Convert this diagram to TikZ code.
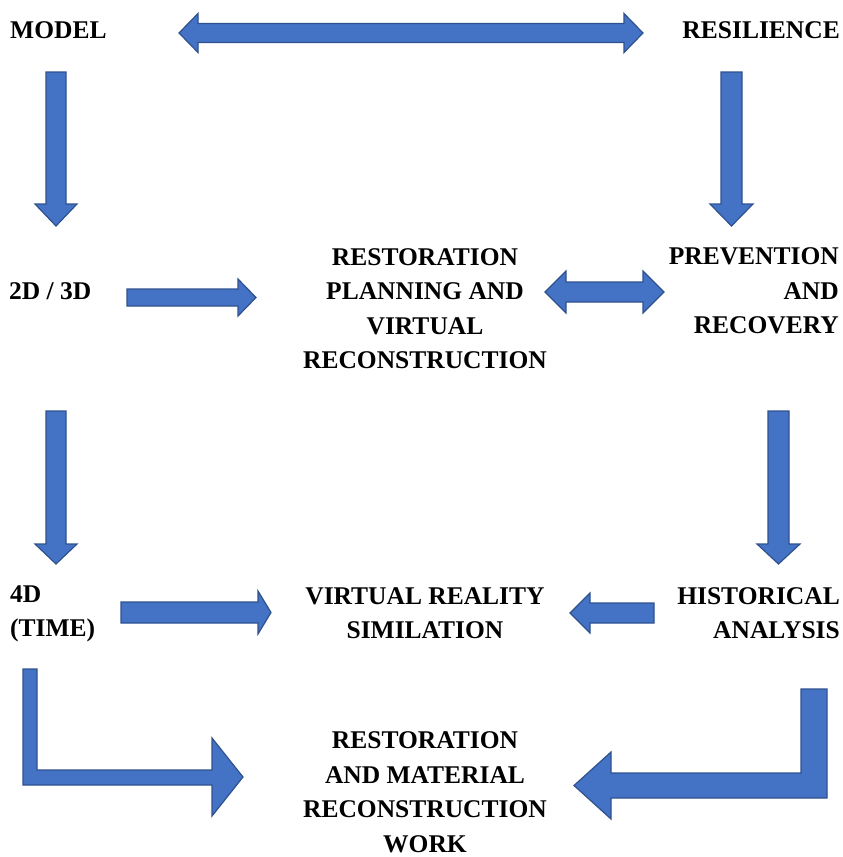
\documentclass[tikz,border=0pt]{standalone}
\usepackage{fontspec}
\setmainfont{Liberation Serif}
\usetikzlibrary{positioning}
\definecolor{arrowfill}{HTML}{4472C4}
\definecolor{arrowedge}{HTML}{2F528F}
\tikzset{
    term/.style = {inner sep=0pt, align=center, font=\fontsize{25.5}{34.5}\selectfont\bfseries},
    termr/.style = {term, align=right},
    terml/.style = {term, align=left},
    blockarrow/.style = {fill=arrowfill, draw=arrowedge, line width=1.2pt, line join=miter}
}
\begin{document}
\begin{tikzpicture}[x=1pt, y=-1pt]
    \useasboundingbox (0,0) rectangle (843,857);
        % text
        \node [terml, anchor=west] (model) at (10,30.5) {MODEL};
        \node [termr, anchor=east] (resilience) at (840,30.5) {RESILIENCE};
        \node [terml, anchor=west] (twothree) at (9,291.5) {2D / 3D};
        \node [term] (planning) at (425,308.5) {RESTORATION\\PLANNING AND\\VIRTUAL\\RECONSTRUCTION};
        \node [termr, anchor=east] (prevention) at (839,291) {PREVENTION\\AND\\RECOVERY};
        \node [terml, anchor=west] (fourd) at (10,614) {4D\\(TIME)};
        \node [term] (vrsim) at (425,613) {VIRTUAL REALITY\\SIMILATION};
        \node [termr, anchor=east] (historical) at (840,613) {HISTORICAL\\ANALYSIS};
        \node [term] (material) at (425,792) {RESTORATION\\AND MATERIAL\\RECONSTRUCTION\\WORK};
        % model <-> resilience
        \draw [blockarrow] (179,33) -- (198,13.5) -- (198,23.5) -- (624,23.5) -- (624,13.5) -- (643,33)
            -- (624,52.5) -- (624,42.5) -- (198,42.5) -- (198,52.5) -- cycle;
        % downward arrows
        \draw [blockarrow] (46,72) -- (66,72) -- (66,204) -- (77,204) -- (56,226) -- (35,204) -- (46,204) -- cycle;
        \draw [blockarrow] (721,72) -- (742,72) -- (742,204) -- (753,204) -- (731.5,226) -- (710,204) -- (721,204) -- cycle;
        \draw [blockarrow] (46,411) -- (66,411) -- (66,544) -- (77,544) -- (56,564) -- (35,544) -- (46,544) -- cycle;
        \draw [blockarrow] (768,411) -- (789,411) -- (789,544) -- (800,544) -- (778.5,564) -- (757,544) -- (768,544) -- cycle;
        % 2d/3d -> planning
        \draw [blockarrow] (127,289) -- (238,289) -- (238,279) -- (256,297.5) -- (238,316) -- (238,306) -- (127,306) -- cycle;
        % planning <-> prevention
        \draw [blockarrow] (545,292) -- (566,271) -- (566,282) -- (643,282) -- (643,271) -- (664,292)
            -- (643,313) -- (643,302) -- (566,302) -- (566,313) -- cycle;
        % 4d -> vr
        \draw [blockarrow] (121,602) -- (258,602) -- (258,591) -- (271,612.5) -- (258,634) -- (258,623) -- (121,623) -- cycle;
        % historical -> vr
        \draw [blockarrow] (654,603) -- (590,603) -- (590,593) -- (570,613) -- (590,633) -- (590,623) -- (654,623) -- cycle;
        % bent arrows to material work
        \draw [blockarrow] (23,669) -- (37,669) -- (37,770) -- (212,770) -- (212,738) -- (243,777)
            -- (212,816) -- (212,785) -- (23,785) -- cycle;
        \draw [blockarrow] (827,689) -- (801,689) -- (801,773) -- (611,773) -- (611,752) -- (574,785.5)
            -- (611,819) -- (611,798) -- (827,798) -- cycle;
\end{tikzpicture}
\end{document}
